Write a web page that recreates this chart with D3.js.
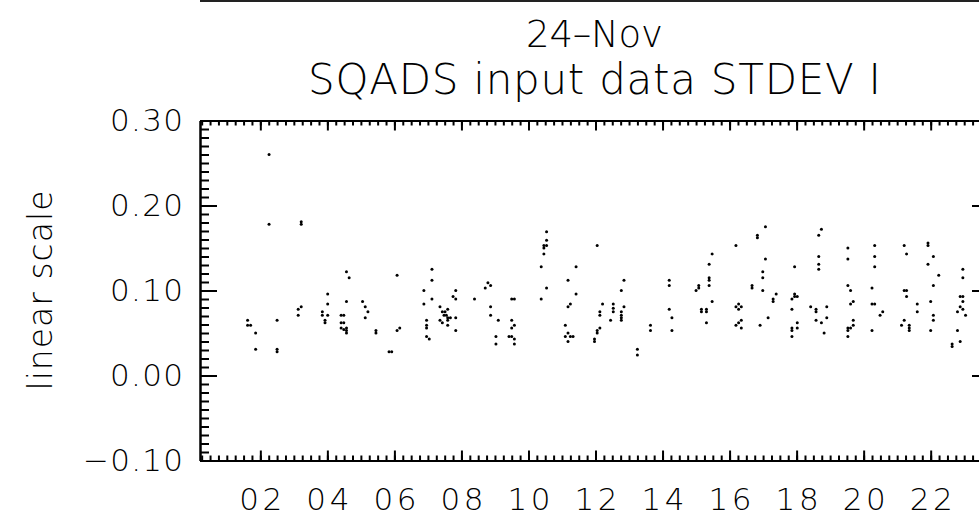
<!DOCTYPE html>
<html>
<head>
<meta charset="utf-8">
<script src="https://cdn.jsdelivr.net/npm/d3@7/dist/d3.min.js"></script>
<style>
  html, body { margin: 0; padding: 0; background: #fff; overflow: hidden; }
  text { font-family: "DejaVu Sans", "Liberation Sans", sans-serif; font-weight: 300; fill: #000; }
</style>
</head>
<body>
<script>
// Labels
const dateLabel = "24\u2013Nov";
const chartTitle = "SQADS input data STDEV I";
const yAxisTitle = "linear scale";

// Sample times (hour of day) and the STDEV I value measured at each
const hours = [
  1.62, 1.62, 1.71, 1.86, 1.86, 2.26, 2.26, 2.50, 2.50, 2.50,
  3.13, 3.22, 3.13, 3.22, 3.22, 3.85, 3.85, 3.93, 3.93, 4.01,
  4.01, 4.01, 4.41, 4.49, 4.41, 4.49, 4.41, 4.49, 4.57, 4.57,
  4.57, 4.57, 4.65, 4.57, 5.05, 5.13, 5.21, 5.13, 5.45, 5.45,
  5.84, 5.92, 6.08, 6.08, 6.16, 6.88, 6.88, 6.96, 6.96, 6.96,
  6.96, 7.04, 7.12, 7.12, 7.12, 7.36, 7.43, 7.51, 7.48, 7.55,
  7.36, 7.43, 7.59, 7.59, 7.67, 7.59, 7.59, 7.75, 7.83, 7.83,
  7.83, 7.83, 8.39, 8.71, 8.79, 8.87, 8.87, 8.87, 9.10, 9.03,
  9.03, 9.50, 9.58, 9.50, 9.58, 9.50, 9.42, 9.50, 9.58, 9.58,
  10.38, 10.38, 10.46, 10.46, 10.46, 10.54, 10.54, 10.54, 10.54, 11.18,
  11.42, 11.42, 11.18, 11.25, 11.10, 11.10, 11.18, 11.25, 11.33, 11.18,
  12.05, 12.13, 12.13, 11.97, 11.97, 12.05, 12.05, 12.13, 12.21, 12.45,
  12.53, 12.53, 12.53, 12.77, 12.85, 12.85, 12.77, 12.77, 12.77, 12.77,
  13.25, 13.25, 13.64, 13.64, 14.20, 14.20, 14.20, 14.28, 14.28, 15.00,
  15.08, 15.08, 15.16, 15.16, 15.31, 15.31, 15.31, 15.48, 15.39, 15.39,
  15.39, 15.39, 15.48, 16.19, 16.19, 16.27, 16.35, 16.27, 16.19, 16.27,
  16.35, 16.35, 16.67, 16.67, 16.83, 16.83, 17.07, 17.07, 16.99, 16.99,
  16.99, 16.91, 17.15, 17.30, 17.30, 17.39, 17.94, 17.86, 17.94, 18.02,
  17.94, 17.86, 18.02, 18.02, 17.86, 17.86, 17.86, 18.42, 18.58, 18.58,
  18.58, 18.66, 18.66, 18.66, 18.66, 18.74, 18.74, 18.82, 18.90, 18.90,
  19.53, 19.53, 19.53, 19.61, 19.61, 19.69, 19.69, 19.53, 19.61, 19.69,
  19.53, 19.53, 20.33, 20.33, 20.33, 20.25, 20.25, 20.33, 20.49, 20.57,
  20.25, 21.21, 21.28, 21.21, 21.28, 21.28, 21.60, 21.60, 21.21, 21.13,
  21.36, 21.36, 21.36, 21.92, 21.92, 22.08, 21.92, 22.24, 22.08, 22.00,
  22.08, 22.08, 22.00, 22.96, 22.96, 22.88, 22.96, 22.96, 22.88, 22.96,
  22.80, 23.04, 22.80, 22.88, 22.64, 22.64
];
const stdevI = [
  0.065, 0.059, 0.059, 0.050, 0.031, 0.260, 0.178, 0.065, 0.031, 0.028,
  0.078, 0.081, 0.071, 0.181, 0.178, 0.075, 0.071, 0.065, 0.062, 0.096,
  0.084, 0.071, 0.071, 0.071, 0.062, 0.062, 0.056, 0.054, 0.056, 0.053,
  0.050, 0.122, 0.115, 0.087, 0.087, 0.081, 0.075, 0.068, 0.053, 0.050,
  0.028, 0.028, 0.118, 0.053, 0.056, 0.100, 0.084, 0.065, 0.059, 0.056,
  0.046, 0.043, 0.125, 0.112, 0.090, 0.081, 0.075, 0.075, 0.071, 0.071,
  0.065, 0.062, 0.078, 0.068, 0.068, 0.065, 0.059, 0.093, 0.090, 0.100,
  0.068, 0.053, 0.090, 0.103, 0.109, 0.106, 0.081, 0.071, 0.065, 0.046,
  0.037, 0.090, 0.090, 0.065, 0.059, 0.056, 0.046, 0.046, 0.043, 0.037,
  0.128, 0.090, 0.143, 0.153, 0.150, 0.153, 0.159, 0.169, 0.103, 0.112,
  0.128, 0.096, 0.081, 0.084, 0.059, 0.046, 0.050, 0.046, 0.046, 0.040,
  0.153, 0.075, 0.071, 0.043, 0.040, 0.050, 0.053, 0.056, 0.084, 0.065,
  0.084, 0.079, 0.075, 0.100, 0.112, 0.081, 0.075, 0.071, 0.068, 0.065,
  0.031, 0.024, 0.059, 0.053, 0.112, 0.106, 0.078, 0.068, 0.053, 0.100,
  0.103, 0.106, 0.078, 0.075, 0.078, 0.075, 0.062, 0.143, 0.131, 0.115,
  0.112, 0.106, 0.087, 0.153, 0.081, 0.084, 0.081, 0.078, 0.059, 0.062,
  0.065, 0.056, 0.106, 0.103, 0.165, 0.162, 0.175, 0.137, 0.122, 0.115,
  0.100, 0.059, 0.068, 0.090, 0.087, 0.096, 0.128, 0.090, 0.093, 0.093,
  0.096, 0.078, 0.062, 0.056, 0.056, 0.053, 0.046, 0.081, 0.078, 0.075,
  0.065, 0.140, 0.131, 0.125, 0.165, 0.172, 0.062, 0.050, 0.081, 0.068,
  0.150, 0.137, 0.106, 0.100, 0.084, 0.087, 0.065, 0.056, 0.056, 0.059,
  0.053, 0.046, 0.153, 0.140, 0.128, 0.103, 0.084, 0.084, 0.071, 0.075,
  0.053, 0.153, 0.143, 0.100, 0.100, 0.093, 0.084, 0.075, 0.065, 0.059,
  0.059, 0.056, 0.053, 0.156, 0.153, 0.140, 0.131, 0.118, 0.106, 0.087,
  0.071, 0.065, 0.053, 0.125, 0.115, 0.093, 0.093, 0.087, 0.081, 0.078,
  0.075, 0.071, 0.053, 0.040, 0.037, 0.034
];

// Axis ticks
const xMajorTicks = [2, 4, 6, 8, 10, 12, 14, 16, 18, 20, 22];
const yMajorTicks = [-0.10, 0.00, 0.10, 0.20, 0.30];
const xDomain = [0.2, 23.74];
const yDomain = [-0.10, 0.30];

const W = 979, H = 530;
const plot = { left: 200, right: 989, top: 120.5, bottom: 460.5 };

const svg = d3.select("body").append("svg")
  .attr("width", W).attr("height", H)
  .style("display", "block");

const x = d3.scaleLinear().domain(xDomain).range([plot.left, plot.right]);
const y = d3.scaleLinear().domain(yDomain).range([plot.bottom, plot.top]);

const xMinorTicks = d3.range(0.25, 23.75, 0.25).filter(h => h >= xDomain[0] && h <= xDomain[1]);
const yMinorTicks = d3.range(-10, 31).map(i => i / 100);

// Bottom edge of the panel above
svg.append("line")
  .attr("x1", plot.left).attr("x2", W)
  .attr("y1", 1).attr("y2", 1)
  .attr("stroke", "#222").attr("stroke-width", 2);

// Titles
const cx = (plot.left + plot.right) / 2;
svg.append("text")
  .attr("x", cx).attr("y", 47)
  .attr("text-anchor", "middle")
  .attr("font-size", 37)
  .attr("textLength", 137).attr("lengthAdjust", "spacing")
  .text(dateLabel);
svg.append("text")
  .attr("x", cx).attr("y", 94)
  .attr("text-anchor", "middle")
  .attr("font-size", 42)
  .attr("textLength", 573).attr("lengthAdjust", "spacing")
  .text(chartTitle);

// Y axis title
svg.append("text")
  .attr("transform", `translate(52,${(plot.top + plot.bottom) / 2}) rotate(-90)`)
  .attr("text-anchor", "middle")
  .attr("font-size", 33)
  .attr("textLength", 200).attr("lengthAdjust", "spacing")
  .text(yAxisTitle);

function styleAxis(g) {
  g.select(".domain").attr("stroke", "#000").attr("stroke-width", 2);
  g.selectAll(".tick line").attr("stroke", "#000").attr("stroke-width", 2);
  g.selectAll("text").attr("font-family", null).attr("font-size", null);
}

const fmtY = d => d.toFixed(2).replace("-", "\u2212");
const fmtX = d3.format("02d");

// Minor ticks
svg.append("g").attr("transform", `translate(0,${plot.bottom})`)
  .call(d3.axisBottom(x).tickValues(xMinorTicks).tickSize(-5).tickSizeOuter(0).tickFormat(""))
  .call(styleAxis);
svg.append("g").attr("transform", `translate(0,${plot.top})`)
  .call(d3.axisTop(x).tickValues(xMinorTicks).tickSize(-5).tickSizeOuter(0).tickFormat(""))
  .call(styleAxis);
svg.append("g").attr("transform", `translate(${plot.left},0)`)
  .call(d3.axisLeft(y).tickValues(yMinorTicks).tickSize(-9).tickSizeOuter(0).tickFormat(""))
  .call(styleAxis);
svg.append("g").attr("transform", `translate(${plot.right},0)`)
  .call(d3.axisRight(y).tickValues(yMinorTicks).tickSize(-9).tickSizeOuter(0).tickFormat(""))
  .call(styleAxis);

// Major ticks and labels
const xAxisG = svg.append("g").attr("transform", `translate(0,${plot.bottom})`)
  .call(d3.axisBottom(x).tickValues(xMajorTicks).tickSize(-10).tickSizeOuter(0)
    .tickPadding(27).tickFormat(fmtX))
  .call(styleAxis);
xAxisG.selectAll("text")
  .attr("font-size", 31)
  .attr("textLength", 43).attr("lengthAdjust", "spacing");

svg.append("g").attr("transform", `translate(0,${plot.top})`)
  .call(d3.axisTop(x).tickValues(xMajorTicks).tickSize(-10).tickSizeOuter(0).tickFormat(""))
  .call(styleAxis);

const yAxisG = svg.append("g").attr("transform", `translate(${plot.left},0)`)
  .call(d3.axisLeft(y).tickValues(yMajorTicks).tickSize(-17).tickSizeOuter(0)
    .tickPadding(17).tickFormat(fmtY))
  .call(styleAxis);
yAxisG.selectAll("text")
  .attr("font-size", 31)
  .attr("textLength", d => d < 0 ? 100 : 73).attr("lengthAdjust", "spacing");

svg.append("g").attr("transform", `translate(${plot.right},0)`)
  .call(d3.axisRight(y).tickValues(yMajorTicks).tickSize(-17).tickSizeOuter(0).tickFormat(""))
  .call(styleAxis);

// Data points
svg.append("g")
  .selectAll("circle")
  .data(d3.zip(hours, stdevI))
  .join("circle")
  .attr("cx", d => x(d[0]))
  .attr("cy", d => y(d[1]))
  .attr("r", 1.5)
  .attr("fill", "#000");
</script>
</body>
</html>
